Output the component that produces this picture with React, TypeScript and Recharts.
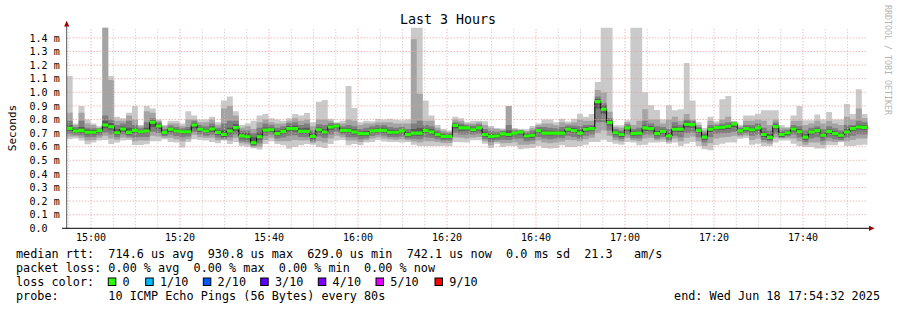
import React from 'react';
import { ComposedChart, Area, Line, XAxis, YAxis, ReferenceLine } from 'recharts';

// ---- data (microseconds), one value per 80 s step, 135 steps ----
const stepSeconds = 80;
const startLabel = '14:54:32';
const endLabel = '17:54:32';

const medianRtt = [735,715,720,706,706,720,760,747,703,730,
 705,720,710,715,780,752,705,728,715,710,
 710,760,728,715,730,705,690,715,740,680,
 673,629,673,722,725,696,713,733,733,713,
 713,676,725,708,745,752,720,720,708,696,
 696,716,720,720,706,706,716,689,700,700,
 720,708,689,676,676,757,738,738,725,738,
 689,676,679,694,690,700,708,679,684,718,
 700,700,700,700,728,718,700,728,733,931,
 875,777,703,690,738,696,700,738,733,696,
 713,679,728,728,765,762,720,670,728,740,
 743,750,767,716,733,725,738,690,669,748,
 690,703,730,710,670,708,718,684,713,696,
 684,708,733,745,742];

const maxRtt = [1120,770,900,800,770,750,1500,1120,820,810,
 850,900,760,900,880,800,760,790,790,770,
 860,830,800,800,820,780,940,970,860,760,
 770,790,830,840,810,800,790,810,840,830,
 848,780,930,944,806,780,790,1047,885,780,
 790,787,806,800,806,798,794,800,1500,1500,
 940,830,760,730,720,820,810,780,790,790,
 787,752,738,733,900,738,730,728,752,770,
 800,800,780,805,785,805,843,820,840,1076,
 1500,1500,757,757,795,1500,1500,1000,904,870,
 800,904,868,875,1216,940,780,738,820,787,
 948,973,787,762,830,830,843,868,868,868,
 757,745,830,900,794,794,836,800,855,800,
 800,914,840,1022,840];

const minRtt = [654,660,645,618,630,645,650,620,630,645,
 650,612,612,618,640,640,654,635,630,595,
 635,655,650,645,635,625,645,620,635,605,
 600,588,580,620,640,620,610,585,598,610,
 620,615,598,590,620,645,650,610,620,610,
 630,635,650,638,635,635,630,635,615,605,
 605,605,605,605,605,635,635,630,647,647,
 622,590,622,598,605,605,581,586,590,605,
 590,586,590,610,598,598,605,615,635,635,
 652,635,622,615,635,630,610,615,630,630,
 635,622,630,605,622,635,605,581,573,610,
 622,630,630,659,664,615,622,605,605,630,
 645,645,622,605,598,598,586,586,610,610,
 635,605,605,610,615];

const ping9 = [850,760,850,770,760,740,1500,1090,790,790,
 830,800,750,860,850,790,750,770,770,750,
 800,800,780,780,800,760,880,900,830,740,
 750,730,780,800,780,770,770,790,810,790,
 800,750,800,800,790,770,770,800,790,760,
 770,770,780,780,780,770,770,770,1390,990,
 790,790,740,720,710,800,790,770,770,780,
 760,740,730,725,900,730,720,715,735,760,
 770,770,760,780,770,780,800,790,790,1017,
 1000,857,745,740,780,760,790,875,800,800,
 770,800,820,790,840,800,760,720,790,770,
 800,820,785,750,790,790,800,790,760,800,
 740,735,790,790,760,770,790,770,790,770,
 760,820,800,880,810];

const ping8 = [790,745,790,740,735,735,830,800,760,770,
 790,760,735,780,810,780,730,755,745,735,
 745,790,760,750,770,740,770,790,790,720,
 720,700,740,770,760,740,750,775,780,760,
 770,720,765,760,775,770,750,760,750,730,
 740,750,760,760,745,740,745,730,770,790,
 760,750,720,705,700,780,770,760,755,765,
 730,715,710,715,760,720,720,705,720,745,
 745,740,735,745,755,755,750,760,760,970,
 920,810,730,720,765,730,740,790,770,750,
 745,730,780,760,800,790,745,705,760,760,
 770,780,780,740,760,760,770,740,720,780,
 720,725,760,750,720,740,750,730,750,735,
 720,760,760,790,780];

const ping7 = [760,730,745,725,722,728,790,775,728,748,
 740,735,722,740,795,768,720,740,730,722,
 726,775,742,730,748,722,720,740,765,700,
 700,670,705,742,740,718,730,752,755,735,
 740,698,742,728,760,764,735,738,728,712,
 716,732,738,740,724,722,730,708,730,740,
 738,728,705,692,690,770,755,750,740,752,
 710,695,696,706,720,712,720,695,702,732,
 720,718,716,720,742,735,722,745,748,950,
 905,795,718,706,752,712,718,758,750,715,
 728,702,748,742,785,778,735,690,742,752,
 756,764,775,730,746,740,752,710,692,764,
 706,716,745,728,692,722,734,702,728,712,
 702,728,748,762,760];

const ping4 = [718,700,702,690,690,702,735,725,688,712,
 690,700,694,698,745,730,690,710,698,692,
 694,735,710,698,710,688,672,695,718,662,
 655,612,652,704,708,680,695,712,712,696,
 695,658,705,690,725,735,703,702,690,678,
 680,700,705,702,690,690,698,672,682,680,
 700,690,672,660,660,735,718,720,708,720,
 672,658,662,676,672,684,690,662,666,700,
 684,682,684,684,710,700,682,710,715,880,
 840,755,686,672,720,678,682,718,715,678,
 695,662,710,708,742,742,702,652,708,722,
 725,730,745,700,716,706,720,672,652,728,
 672,686,712,692,652,690,700,666,694,678,
 666,690,715,726,725];

const ping3 = [695,688,685,670,672,685,705,690,670,690,
 675,670,672,672,710,700,678,690,678,670,
 675,710,690,680,688,668,660,670,690,640,
 635,605,625,680,690,660,668,680,685,672,
 670,640,675,665,690,710,690,670,668,655,
 662,680,688,682,672,670,675,660,658,655,
 668,665,655,645,645,700,690,690,690,695,
 655,635,648,652,650,658,660,640,645,672,
 660,655,660,662,680,672,660,680,690,780,
 780,720,668,655,690,662,660,690,690,660,
 672,648,680,670,700,705,670,630,672,695,
 698,700,710,688,698,680,690,650,640,695,
 665,676,690,668,635,660,670,642,665,655,
 650,665,680,690,690];

const ping2 = [675,675,665,645,650,665,680,660,652,668,
 662,640,645,645,680,675,665,665,655,640,
 655,688,670,665,665,648,652,645,665,625,
 618,596,600,650,665,640,640,640,650,645,
 648,628,640,630,660,680,670,645,645,635,
 648,660,670,660,655,652,655,648,638,630,
 640,640,635,628,628,670,665,660,668,672,
 640,610,635,625,628,632,615,615,620,645,
 630,625,630,638,650,648,640,655,665,700,
 720,680,648,638,665,648,640,660,665,648,
 655,635,660,640,665,675,640,605,625,660,
 668,672,680,675,682,650,660,630,622,668,
 660,662,660,640,615,630,630,615,640,635,
 640,640,650,660,660];

const timeTickLabels = ['15:00','15:20','15:40','16:00','16:20','16:40','17:00','17:20','17:40'];
const yTickValues = [0,0.1,0.2,0.3,0.4,0.5,0.6,0.7,0.8,0.9,1.0,1.1,1.2,1.3,1.4];
const yMax = 1.475;

const lossLabels = ['0','1/10','2/10','3/10','4/10','5/10','9/10'];
const lossColors = ['#26ff00','#00b8ff','#0059ff','#5e00ff','#7e00ff','#dd00ff','#ff0000'];

const legendLines = [
  'median rtt:  714.6 us avg  930.8 us max  629.0 us min  742.1 us now  0.0 ms sd  21.3   am/s',
  'packet loss: 0.00 % avg  0.00 % max  0.00 % min  0.00 % now',
  'loss color:',
  'probe:       10 ICMP Echo Pings (56 Bytes) every 80s',
];
const endText = 'end: Wed Jun 18 17:54:32 2025';

// ---- helpers ----
const toSec = (s: string) => {
  const p = s.split(':').map(Number);
  return p[0] * 3600 + p[1] * 60 + (p[2] || 0);
};
const startSec = toSec(startLabel);
const totalSec = toSec(endLabel) - startSec;
const majorTicks = timeTickLabels.map((l) => toSec(l) - startSec);
const tickName: Record<number, string> = {};
majorTicks.forEach((t, i) => (tickName[t] = timeTickLabels[i]));
const minorTicks: number[] = [];
for (let t = majorTicks[0] % 300; t < totalSec; t += 300) {
  if (!majorTicks.includes(t)) minorTicks.push(t);
}

const half = 0.0115;
const table = medianRtt.map((m, i) => ({
  t: i * stepSeconds,
  b1: [minRtt[i] / 1000, maxRtt[i] / 1000],
  b2: [ping2[i] / 1000, ping9[i] / 1000],
  b3: [ping3[i] / 1000, ping8[i] / 1000],
  b4: [ping4[i] / 1000, ping7[i] / 1000],
  med: m / 1000,
  g: [m / 1000 - half, m / 1000 + half],
}));
table.push({ ...table[table.length - 1], t: totalSec });

// ---- layout ----
const W = 897;
const H = 310;
const plotLeft = 66.7;
const plotRight = 867.7;
const plotTop = 27.7;
const plotBottom = 228.3;
const xAxisH = 20;
const mono = '"DejaVu Sans Mono", monospace';

const YTick = (props: any) => {
  const { x, y, payload } = props;
  const v = payload.value as number;
  const label = v === 0 ? '0.0  ' : `${v.toFixed(1)} m`;
  return (
    <text x={x} y={y} dy="0.36em" textAnchor="end" fontFamily={mono} fontSize={10} fill="#000" style={{ whiteSpace: 'pre' }}>
      {label}
    </text>
  );
};

export default function App() {
  const boxX = [108.3, 145.7, 203.3, 260.7, 318.3, 376, 435];
  const anyProps: any = {};
  return (
    <div style={{ position: 'absolute', left: 0, top: 0, width: W, height: H, background: '#fff' }}>
      <ComposedChart
        width={W}
        height={H}
        data={table}
        margin={{ top: plotTop, right: W - plotRight, bottom: H - plotBottom - xAxisH, left: 0 }}
      >
        <XAxis
          dataKey="t"
          type="number"
          domain={[0, totalSec]}
          ticks={majorTicks}
          tickFormatter={(v: number) => tickName[v] || ''}
          height={xAxisH}
          axisLine={false}
          tickLine={false}
          tickSize={0}
          tickMargin={5.5}
          interval={0}
          tick={{ fontSize: 10, fontFamily: mono, fill: '#000' }}
          allowDataOverflow
        />
        <YAxis
          type="number"
          domain={[0, yMax]}
          ticks={yTickValues}
          width={plotLeft}
          axisLine={false}
          tickLine={false}
          tickSize={0}
          tickMargin={7}
          interval={0}
          tick={<YTick />}
          allowDataOverflow
        />
        <Area dataKey="b1" type="stepAfter" fill="#cacaca" fillOpacity={1} stroke="none" isAnimationActive={false} />
        <Area dataKey="b2" type="stepAfter" fill="#a4a4a4" fillOpacity={1} stroke="none" isAnimationActive={false} />
        <Area dataKey="b3" type="stepAfter" fill="#7e7e7e" fillOpacity={1} stroke="none" isAnimationActive={false} />
        <Area dataKey="b4" type="stepAfter" fill="#585858" fillOpacity={1} stroke="none" isAnimationActive={false} />
        <Line dataKey="med" type="stepAfter" stroke="#000" strokeWidth={1} dot={false} activeDot={false} isAnimationActive={false} {...anyProps} />
        <Area dataKey="g" type="stepAfter" fill="#26ff00" fillOpacity={1} stroke="none" isAnimationActive={false} {...({ zIndex: 700 } as any)} />
        {yTickValues.filter((v) => v > 0).map((v) => (
          <ReferenceLine key={'h' + v} y={v} stroke="#e89a9a" strokeDasharray="1 2" strokeWidth={1} />
        ))}
        {minorTicks.map((t) => (
          <ReferenceLine key={'m' + t} x={t} stroke="#c4c4c4" strokeDasharray="1 2" strokeWidth={1} />
        ))}
        {majorTicks.map((t) => (
          <ReferenceLine key={'M' + t} x={t} stroke="#e89a9a" strokeDasharray="1 2" strokeWidth={1} />
        ))}
      </ComposedChart>
      <svg width={W} height={H} style={{ position: 'absolute', left: 0, top: 0, pointerEvents: 'none' }}>
        <text x={448} y={24} textAnchor="middle" fontFamily={mono} fontSize={13.3} fill="#000">Last 3 Hours</text>
        <text
          x={12}
          y={(plotTop + plotBottom) / 2}
          transform={`rotate(-90 12 ${(plotTop + plotBottom) / 2})`}
          textAnchor="middle"
          dominantBaseline="central"
          fontFamily={mono}
          fontSize={11}
          fill="#000"
        >
          Seconds
        </text>
        <text x={885} y={5} transform="rotate(90 885 5)" fontFamily={mono} fontSize={8.3} fill="#b4b4b4">
          RRDTOOL / TOBI OETIKER
        </text>
        <line x1={plotLeft} y1={plotBottom} x2={plotLeft} y2={24} stroke="#555" strokeWidth={1} />
        <line x1={62} y1={plotBottom} x2={870} y2={plotBottom} stroke="#000" strokeWidth={1} />
        <polygon points={`${plotLeft - 2.6},26.5 ${plotLeft + 2.6},26.5 ${plotLeft},20.8`} fill="#9a0000" />
        <polygon points={`869,${plotBottom - 2.6} 869,${plotBottom + 2.6} 874.6,${plotBottom}`} fill="#9a0000" />
        {legendLines.map((l, i) => (
          <text key={i} x={16} y={258 + i * 14} fontFamily={mono} fontSize={11.8} fill="#000" style={{ whiteSpace: 'pre' }}>
            {l}
          </text>
        ))}
        {lossLabels.map((l, i) => (
          <g key={l}>
            <rect x={boxX[i]} y={278} width={7.5} height={7.5} fill={lossColors[i]} stroke="#000" strokeWidth={1} />
            <text x={boxX[i] + 14.3} y={286} fontFamily={mono} fontSize={11.8} fill="#000">{l}</text>
          </g>
        ))}
        <text x={880} y={300} textAnchor="end" fontFamily={mono} fontSize={11.8} fill="#000" style={{ whiteSpace: 'pre' }}>
          {endText}
        </text>
      </svg>
    </div>
  );
}
